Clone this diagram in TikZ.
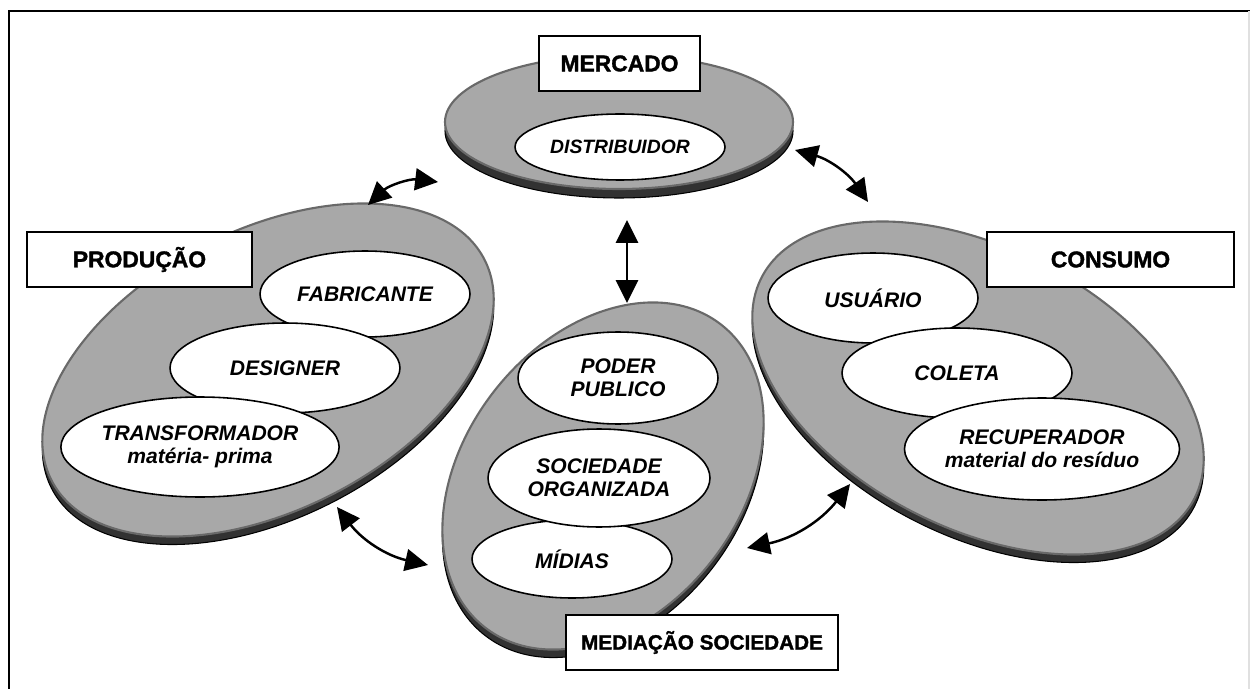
\documentclass[tikz,border=0pt]{standalone}
\usepackage{fontspec}
\setmainfont{Liberation Sans}
\newfontface\heavy[FakeBold=1.5]{Liberation Sans Bold}
\usetikzlibrary{shapes.geometric,arrows.meta}
\definecolor{diskgray}{RGB}{168,168,168}
\definecolor{edgegray}{RGB}{105,105,105}
\definecolor{rimgray}{RGB}{50,50,50}

\begin{document}
\begin{tikzpicture}[x=0.02cm,y=-0.02cm,
    disk/.style ={fill=diskgray, draw=edgegray, line width=1.2pt},
    rim/.style ={fill=rimgray, draw=black, line width=0.6pt},
    blob/.style ={ellipse, draw, fill=white, line width=0.9pt, inner sep=0pt, align=center,
      font=\fontsize{12}{13}\selectfont\bfseries\itshape},
    tag/.style ={rectangle, draw, fill=white, line width=1.1pt, minimum height=1.1cm,
      font=\fontsize{13}{15}\selectfont\heavy},
    link/.style ={line width=1.4pt, {Triangle[length=13pt,width=12.5pt]}-{Triangle[length=13pt,width=12.5pt]}}]
   \useasboundingbox (0,0) rectangle (1250,689);
   \draw[line width=1.2pt] (9,689) -- (9,11) -- (1250,11);
   \draw[black!12, line width=1pt] (1249,11) -- (1249,689);

   % discos
   \draw[rim] (619,131) ellipse (174 and 67);
   \draw[disk] (619,122) ellipse (174 and 67);
   \draw[rim, shift={(268,378)}, rotate=27] (0,0) ellipse (243 and 140);
   \draw[disk, shift={(268,370)}, rotate=27] (0,0) ellipse (243 and 140);
   \draw[rim, shift={(978,396)}, rotate=-27] (0,0) ellipse (243 and 140);
   \draw[disk, shift={(978,388)}, rotate=-27] (0,0) ellipse (243 and 140);
   \draw[rim, shift={(603,484)}, rotate=52] (0,0) ellipse (192 and 138);
   \draw[disk, shift={(603,476)}, rotate=52] (0,0) ellipse (192 and 138);

   \node[blob, minimum width=4.2cm, minimum height=1.32cm, font=\fontsize{11}{12}\selectfont\bfseries\itshape] (distrib) at (620,147) {DISTRIBUIDOR};

   \node[blob, minimum width=4.2cm, minimum height=1.72cm] (fabric) at (365,294) {FABRICANTE};
   \node[blob, minimum width=4.6cm, minimum height=1.8cm] (design) at (285,368) {DESIGNER};
   \node[blob, minimum width=5.2cm, minimum height=2cm] (transf) at (200,447) {TRANSFORMADOR\\mat\'eria- prima};

   \node[blob, minimum width=4.2cm, minimum height=1.8cm] (usuario) at (873,298) {USU\'ARIO};
   \node[blob, minimum width=4.6cm, minimum height=1.8cm] (coleta) at (957,373) {COLETA};
   \node[blob, minimum width=5.2cm, minimum height=2.04cm] (recup) at (1042,449) {RECUPERADOR\\material do res\'iduo};

   \node[blob, minimum width=4cm, minimum height=1.84cm] (poder) at (618,378) {PODER\\PUBLICO};
   \node[blob, minimum width=4cm, minimum height=1.56cm] (midias) at (572,559) {M\'IDIAS};
   \node[blob, minimum width=4.44cm, minimum height=1.96cm] (socied) at (599,478) {SOCIEDADE\\ORGANIZADA};

   \node[tag, minimum width=3.22cm] (mercado) at (619.5,63.5) {MERCADO};
   \node[tag, minimum width=4.5cm] (producao) at (139.5,259.5) {PRODUÇÃO};
   \node[tag, minimum width=4.94cm] (consumo) at (1110.5,259.5) {CONSUMO};
   \node[tag, minimum width=5.44cm, font=\fontsize{11.8}{14}\selectfont\heavy] (mediacao) at (702,642.5) {MEDIAÇÃO SOCIEDADE};

   \coordinate (m1) at (438,182);
   \coordinate (p1) at (368,205);
   \coordinate (m2) at (795,150);
   \coordinate (c1) at (868,202);
   \coordinate (m3) at (627,220);
   \coordinate (s1) at (627,303);
   \coordinate (p2) at (337,507);
   \coordinate (s2) at (428,565);
   \coordinate (s3) at (747,548);
   \coordinate (c2) at (850,484);

   \draw[link] (p1) to [bend left = 25] (m1);
   \draw[link] (m2) to [bend left = 20] (c1);
   \draw[link] (m3) -- (s1);
   \draw[link] (p2) to [bend right = 20] (s2);
   \draw[link] (s3) to [bend right = 20] (c2);
\end{tikzpicture}
\end{document}
